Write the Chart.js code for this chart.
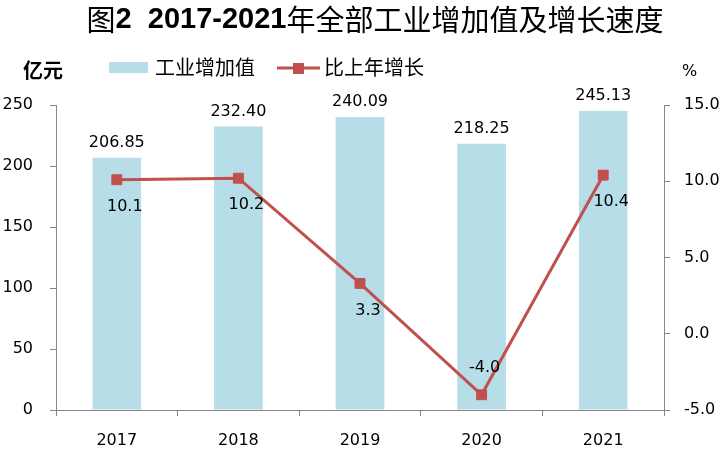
<!DOCTYPE html>
<html>
<head>
<meta charset="utf-8">
<script src="https://cdn.jsdelivr.net/npm/chart.js@4.4.1/dist/chart.umd.min.js"></script>
<style>
  html, body { margin: 0; padding: 0; background: #fff; }
</style>
</head>
<body>
<canvas id="myChart" width="724" height="450"></canvas>
<script>
// data
var years = ["2017", "2018", "2019", "2020", "2021"];
var addedValue = [206.85, 232.40, 240.09, 218.25, 245.13];
var growthRate = [10.1, 10.2, 3.3, -4.0, 10.4];
var leftTicks = [0, 50, 100, 150, 200, 250];
var rightTicks = [-5, 0, 5, 10, 15];

var barColor = "#B7DDE8";
var lineColor = "#C0504D";
var axisColor = "#868686";
var numFont = "DejaVu Sans";
var cjkFont = "'Noto Sans CJK SC'";

// title, legend, unit labels and value labels
var extras = {
  id: "extras",
  afterDatasetsDraw: function(chart) {
    var ctx = chart.ctx;
    ctx.save();
    ctx.fillStyle = "#000";
    ctx.font = "16px " + numFont;
    ctx.textAlign = "center";
    ctx.textBaseline = "middle";

    // bar values above bars
    chart.getDatasetMeta(1).data.forEach(function(el, i) {
      ctx.fillText(addedValue[i].toFixed(2), el.x, el.y - 15);
    });
    // line values below points (above for the dip)
    chart.getDatasetMeta(0).data.forEach(function(el, i) {
      var v = growthRate[i];
      if (v < 0) ctx.fillText(v.toFixed(1), el.x + 3, el.y - 27);
      else ctx.fillText(v.toFixed(1), el.x + 8, el.y + 27);
    });
    ctx.restore();
  },
  afterDraw: function(chart) {
    var ctx = chart.ctx;
    ctx.save();
    ctx.fillStyle = "#000";
    ctx.textBaseline = "middle";

    // title with bold digits
    var parts = [
      ["图", "29px " + cjkFont],
      ["2  2017-2021", "bold 29px 'Liberation Sans'"],
      ["年全部工业增加值及增长速度", "29px " + cjkFont]
    ];
    var total = 0;
    parts.forEach(function(p) { ctx.font = p[1]; total += ctx.measureText(p[0]).width; });
    var x = 375 - total / 2;
    ctx.textAlign = "left";
    parts.forEach(function(p) {
      ctx.font = p[1];
      ctx.fillText(p[0], x, 20);
      x += ctx.measureText(p[0]).width;
    });

    // unit labels
    ctx.font = "bold 20px " + cjkFont;
    ctx.fillText("亿元", 23, 70);
    ctx.font = "16px " + numFont;
    ctx.fillText("%", 682, 72);

    // legend
    ctx.fillStyle = barColor;
    ctx.fillRect(109, 62, 39, 11);
    ctx.fillStyle = "#000";
    ctx.font = "20px " + cjkFont;
    ctx.fillText(chart.data.datasets[1].label, 155, 67);

    ctx.strokeStyle = lineColor;
    ctx.lineWidth = 3;
    ctx.beginPath();
    ctx.moveTo(277, 68);
    ctx.lineTo(320, 68);
    ctx.stroke();
    ctx.fillStyle = lineColor;
    ctx.fillRect(293, 63, 11, 11);
    ctx.fillStyle = "#000";
    ctx.fillText(chart.data.datasets[0].label, 324, 67);
    ctx.restore();
  }
};

new Chart("myChart", {
  type: "bar",
  data: {
    labels: years,
    datasets: [{
      type: "line",
      label: "比上年增长",
      data: growthRate,
      yAxisID: "y1",
      borderColor: lineColor,
      borderWidth: 3,
      backgroundColor: lineColor,
      pointStyle: "rect",
      pointRadius: 7,
      pointBorderWidth: 1,
      pointBorderColor: lineColor,
      pointBackgroundColor: lineColor,
      tension: 0,
      order: 0
    }, {
      label: "工业增加值",
      data: addedValue,
      yAxisID: "y",
      backgroundColor: barColor,
      barPercentage: 0.4,
      categoryPercentage: 1,
      order: 1
    }]
  },
  options: {
    responsive: false,
    devicePixelRatio: 1,
    animation: false,
    layout: { padding: { top: 105, left: 0, right: 0, bottom: 0 } },
    plugins: {
      legend: { display: false },
      title: { display: false },
      tooltip: { enabled: false }
    },
    scales: {
      x: {
        offset: true,
        grid: { offset: true, drawOnChartArea: false, drawTicks: true, tickLength: 6, color: axisColor },
        border: { color: axisColor },
        ticks: { color: "#000", font: { family: numFont, size: 16 }, padding: 15 },
        afterFit: function(s) { s.height = 40; }
      },
      y: {
        position: "left",
        min: leftTicks[0],
        max: leftTicks[leftTicks.length - 1],
        afterBuildTicks: function(s) { s.ticks = leftTicks.map(function(v) { return { value: v }; }); },
        grid: { drawOnChartArea: false, tickLength: 6, color: axisColor },
        border: { color: axisColor },
        ticks: { color: "#000", font: { family: numFont, size: 16 }, padding: 17 },
        afterFit: function(s) { s.width = 56; }
      },
      y1: {
        position: "right",
        min: rightTicks[0],
        max: rightTicks[rightTicks.length - 1],
        afterBuildTicks: function(s) { s.ticks = rightTicks.map(function(v) { return { value: v }; }); },
        grid: { drawOnChartArea: false, tickLength: 6, color: axisColor },
        border: { color: axisColor },
        ticks: {
          color: "#000", font: { family: numFont, size: 16 }, padding: 14,
          callback: function(v) { return Number(v).toFixed(1); }
        },
        afterFit: function(s) { s.width = 60; }
      }
    }
  },
  plugins: [extras]
});
</script>
</body>
</html>
